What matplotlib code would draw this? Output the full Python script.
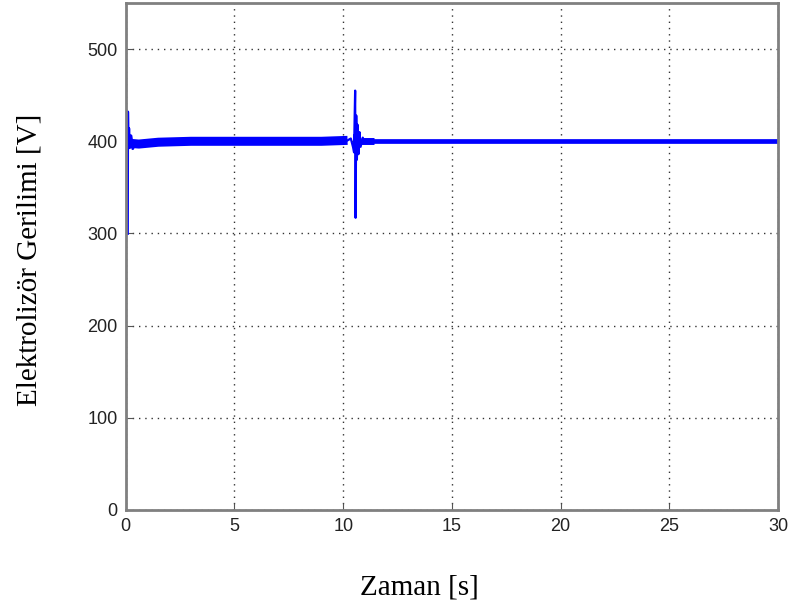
import matplotlib
matplotlib.use("Agg")
import matplotlib.pyplot as plt

# Başlangıç geçici rejimi
t_start = [0.08, 0.09, 0.11, 0.14, 0.18, 0.24, 0.32, 0.45, 0.6, 0.9, 1.2]
v_start = [300, 432, 400, 414, 393, 406, 392, 399, 395, 401, 399]

# Gürültülü kararlı bölge (kalın bant)
t_band = [0.12, 0.6, 1.5, 3.0, 5.0, 7.0, 9.0, 10.2]
v_band = [398, 397, 399, 400, 400, 400, 400, 401]

# 10.5 s civarındaki yük değişimi
t_spike = [10.2, 10.35, 10.45, 10.5, 10.53, 10.55, 10.57, 10.6, 10.63, 10.66, 10.7, 10.75, 10.8, 10.9, 11.0, 11.2, 11.45]
v_spike = [401, 403, 394, 388, 430, 455, 317, 428, 380, 418, 386, 410, 394, 404, 398, 401, 400]

# Kararlı bölge
t_tail = [11.3, 20.0, 30.0]
v_tail = [400, 400, 400]

fig = plt.figure(figsize=(7.91, 6.09), dpi=100)
ax = fig.add_axes([0.159, 0.1626, 0.8246, 0.8324])

blue = "#0000ff"
ax.plot(t_band, v_band, color=blue, linewidth=6.5, solid_capstyle="butt")
ax.plot(t_start, v_start, color=blue, linewidth=2.0)
ax.plot(t_spike, v_spike, color=blue, linewidth=1.6)
ax.plot([10.45, 10.8], [402, 402], color=blue, linewidth=7, solid_capstyle="butt")
ax.plot([10.8, 11.4], [400, 400], color=blue, linewidth=5, solid_capstyle="butt")
ax.plot(t_tail, v_tail, color=blue, linewidth=3.4)

ax.set_xlim(0, 30)
ax.set_ylim(0, 550)
ax.set_xticks([0, 5, 10, 15, 20, 25, 30])
ax.set_yticks([0, 100, 200, 300, 400, 500])
ax.grid(True, linestyle=(0, (1, 3.5)), color="#333333", linewidth=1.0)
ax.tick_params(direction="in", length=5, labelsize=13, color="#555555", pad=6,
               labelcolor="#222222")
for lbl in ax.get_xticklabels() + ax.get_yticklabels():
    lbl.set_fontfamily("Liberation Sans")
for s in ax.spines.values():
    s.set_color("#808080")
    s.set_linewidth(2.0)

fig.text(0.53, 0.035, "Zaman [s]", fontfamily="Liberation Serif", fontsize=21,
         ha="center", va="center")
fig.text(0.037, 0.573, "Elektrolizör Gerilimi [V]", fontfamily="Liberation Serif",
         fontsize=21, rotation=90, ha="center", va="center")

fig.savefig("out.png", dpi=100)
